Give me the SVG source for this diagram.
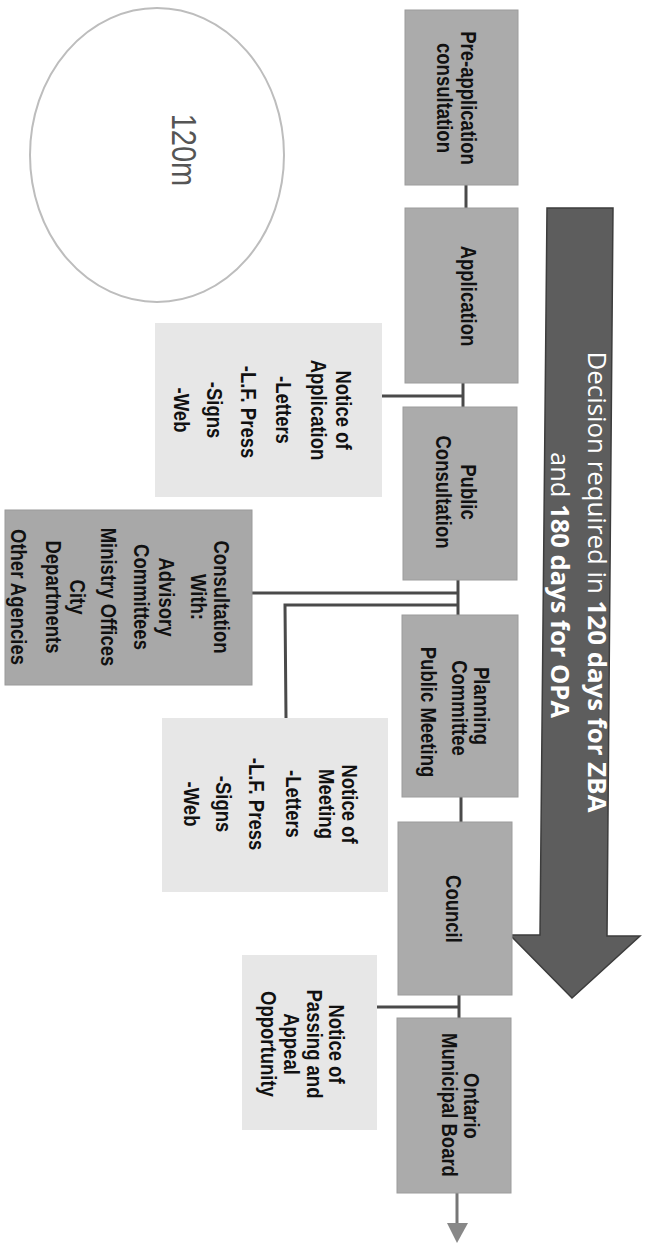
<svg xmlns="http://www.w3.org/2000/svg" width="646" height="1244" viewBox="0 0 646 1244">
<style>
.box{fill:#ababab;stroke:#9c9c9c;stroke-width:1}
.side{fill:#a8a8a8;stroke:#9a9a9a;stroke-width:1}
.light{fill:#e7e7e7}
.t{font-family:"Liberation Sans",Arial,sans-serif;font-weight:bold;font-size:18.5px;fill:#111;text-anchor:middle}
.ln{stroke:#4a4a4a;stroke-width:3;fill:none}
.at{font-family:"Open Sans","Noto Sans",sans-serif;font-size:25px;fill:#fff;text-anchor:middle}
</style>
<rect width="646" height="1244" fill="#fff"/>

<g id="circle">
<ellipse cx="157" cy="155" rx="127" ry="147" fill="none" stroke="#bdbdbd" stroke-width="2"/>
<text transform="translate(172,150) rotate(90) scale(1,1.2)" font-family="Liberation Sans,Arial,sans-serif" font-size="29" fill="#555" text-anchor="middle">120m</text>
</g>

<g id="decision-arrow">
<polygon points="547,208 613,208 607,936 640,936 572,998 510,935 540,935" fill="#5d5d5d" stroke="#3c3c3c" stroke-width="1.5"/>
<text class="at" transform="translate(588,582) rotate(90)" textLength="461" lengthAdjust="spacingAndGlyphs">Decision required in <tspan font-weight="bold">120 days for ZBA</tspan></text>
<text class="at" transform="translate(551,585) rotate(90)" textLength="266" lengthAdjust="spacingAndGlyphs">and <tspan font-weight="bold">180 days for OPA</tspan></text>
</g>

<g id="connectors">
<line class="ln" x1="466" y1="185" x2="466" y2="208"/>
<line class="ln" x1="463" y1="383" x2="463" y2="407"/>
<line class="ln" x1="382" y1="396" x2="463" y2="396"/>
<line class="ln" x1="458" y1="580" x2="458" y2="615"/>
<line class="ln" x1="252" y1="593" x2="458" y2="593"/>
<polyline class="ln" points="458,605 285,605 286,718"/>
<line class="ln" x1="461" y1="797" x2="461" y2="822"/>
<line class="ln" x1="459" y1="995" x2="459" y2="1018"/>
<line class="ln" x1="377" y1="1007" x2="459" y2="1007"/>
<line x1="457" y1="1193" x2="457" y2="1225" stroke="#777" stroke-width="3"/>
<polygon points="447,1223 468,1223 457,1243" fill="#888"/>
</g>

<g id="pre-application">
<rect class="box" x="405" y="10" width="113" height="175"/>
<text class="t" transform="translate(461,98) rotate(90) scale(1,1.2)">Pre-application</text>
<text class="t" transform="translate(437,98) rotate(90) scale(1,1.2)">consultation</text>
</g>

<g id="application">
<rect class="box" x="405" y="208" width="113" height="175"/>
<text class="t" transform="translate(461,296) rotate(90) scale(1,1.2)">Application</text>
</g>

<g id="public-consultation">
<rect class="box" x="403" y="407" width="114" height="173"/>
<text class="t" transform="translate(461,492) rotate(90) scale(1,1.2)">Public</text>
<text class="t" transform="translate(436,492) rotate(90) scale(1,1.2)">Consultation</text>
</g>

<g id="planning-committee">
<rect class="box" x="402" y="615" width="116" height="182"/>
<text class="t" transform="translate(474,706) rotate(90) scale(1,1.2)">Planning</text>
<text class="t" transform="translate(452,708) rotate(90) scale(1,1.2)">Committee</text>
<text class="t" transform="translate(421,712) rotate(90) scale(1,1.2)">Public Meeting</text>
</g>

<g id="council">
<rect class="box" x="398" y="822" width="114" height="173"/>
<text class="t" transform="translate(446,909) rotate(90) scale(1,1.2)">Council</text>
</g>

<g id="ontario-municipal-board">
<rect class="box" x="397" y="1018" width="114" height="175"/>
<text class="t" transform="translate(464,1106) rotate(90) scale(1,1.2)">Ontario</text>
<text class="t" transform="translate(442,1105) rotate(90) scale(1,1.2)">Municipal Board</text>
</g>

<g id="notice-of-application">
<rect class="light" x="155" y="323" width="227" height="174"/>
<text class="t" transform="translate(336,410) rotate(90) scale(1,1.2)">Notice of</text>
<text class="t" transform="translate(311,410) rotate(90) scale(1,1.2)">Application</text>
<text class="t" transform="translate(276,410) rotate(90) scale(1,1.2)">-Letters</text>
<text class="t" transform="translate(241,412) rotate(90) scale(1,1.2)">-L.F. Press</text>
<text class="t" transform="translate(207,410) rotate(90) scale(1,1.2)">-Signs</text>
<text class="t" transform="translate(174,410) rotate(90) scale(1,1.2)">-Web</text>
</g>

<g id="consultation-with">
<rect class="side" x="5" y="510" width="247" height="175"/>
<text class="t" transform="translate(214,597) rotate(90) scale(1,1.2)">Consultation</text>
<text class="t" transform="translate(191,597) rotate(90) scale(1,1.2)">With:</text>
<text class="t" transform="translate(159,597) rotate(90) scale(1,1.2)">Advisory</text>
<text class="t" transform="translate(134,597) rotate(90) scale(1,1.2)">Committees</text>
<text class="t" transform="translate(101,597) rotate(90) scale(1,1.2)">Ministry Offices</text>
<text class="t" transform="translate(70,597) rotate(90) scale(1,1.2)">City</text>
<text class="t" transform="translate(46,597) rotate(90) scale(1,1.2)">Departments</text>
<text class="t" transform="translate(11,597) rotate(90) scale(1,1.2)">Other Agencies</text>
</g>

<g id="notice-of-meeting">
<rect class="light" x="162" y="718" width="226" height="174"/>
<text class="t" transform="translate(342,804) rotate(90) scale(1,1.2)">Notice of</text>
<text class="t" transform="translate(319,804) rotate(90) scale(1,1.2)">Meeting</text>
<text class="t" transform="translate(286,804) rotate(90) scale(1,1.2)">-Letters</text>
<text class="t" transform="translate(249,804) rotate(90) scale(1,1.2)">-L.F. Press</text>
<text class="t" transform="translate(216,804) rotate(90) scale(1,1.2)">-Signs</text>
<text class="t" transform="translate(184,804) rotate(90) scale(1,1.2)">-Web</text>
</g>

<g id="notice-of-passing">
<rect class="light" x="242" y="955" width="135" height="175"/>
<text class="t" transform="translate(329,1044) rotate(90) scale(1,1.2)">Notice of</text>
<text class="t" transform="translate(307,1044) rotate(90) scale(1,1.2)">Passing and</text>
<text class="t" transform="translate(284,1044) rotate(90) scale(1,1.2)">Appeal</text>
<text class="t" transform="translate(261,1044) rotate(90) scale(1,1.2)">Opportunity</text>
</g>
</svg>
